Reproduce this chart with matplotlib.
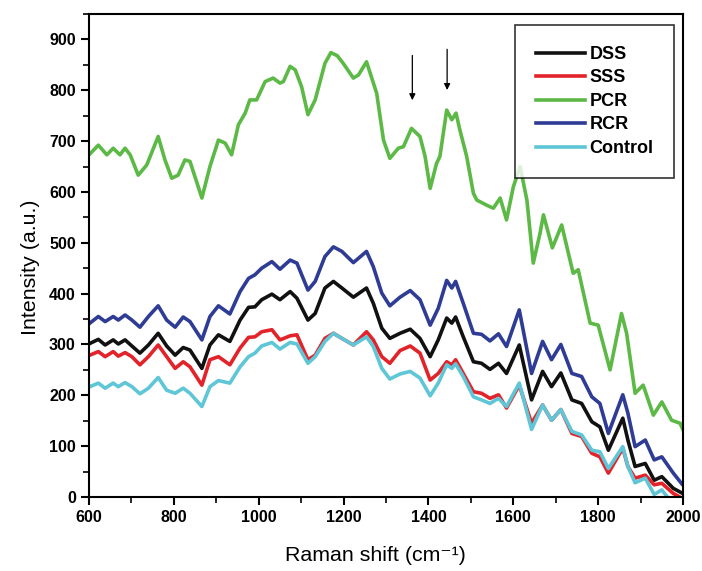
import matplotlib
matplotlib.use('Agg')
import matplotlib.pyplot as plt
from matplotlib.ticker import MultipleLocator

plt.rcParams['font.family'] = ['Liberation Sans', 'DejaVu Sans']

# Raman spectra (shift in cm-1, intensity in a.u.)
pcr_x = [600, 622, 642, 657, 673, 685, 697, 716, 736, 763, 779, 795, 810, 826, 838, 866, 885, 905, 921, 936,
         952, 968, 979, 995, 1015, 1034, 1050, 1058, 1074, 1086, 1101, 1116, 1133, 1156, 1170, 1185, 1199, 1223, 1235, 1254,
         1278, 1294, 1309, 1329, 1341, 1360, 1380, 1392, 1404, 1419, 1427, 1443, 1455, 1465, 1474, 1490, 1506, 1514, 1537, 1553,
         1569, 1584, 1600, 1616, 1632, 1647, 1663, 1671, 1692, 1714, 1741, 1753, 1781, 1800, 1828, 1855, 1867, 1887, 1906, 1930,
         1950, 1973, 1993, 2000]
pcr_y = [673, 692, 673, 686, 673, 686, 673, 633, 653, 709, 663, 627, 633, 663, 660, 588, 650, 702, 696, 673,
         732, 755, 781, 781, 817, 824, 814, 817, 847, 840, 807, 752, 781, 853, 874, 868, 853, 824, 830, 856,
         794, 702, 666, 686, 689, 725, 709, 670, 607, 656, 670, 761, 742, 755, 722, 670, 597, 584, 574, 568,
         588, 545, 610, 650, 584, 460, 519, 555, 490, 535, 440, 447, 342, 338, 250, 361, 322, 204, 220, 161,
         187, 151, 145, 132]

low_x = [602, 622, 638, 657, 669, 685, 701, 720, 740, 763, 783, 803, 822, 838, 866, 885, 905, 932, 956, 976,
         991, 1007, 1031, 1050, 1074, 1090, 1116, 1133, 1156, 1176, 1196, 1223, 1254, 1270, 1290, 1309, 1333, 1357, 1380, 1404,
         1423, 1443, 1455, 1464, 1482, 1506, 1525, 1545, 1565, 1584, 1614, 1643, 1669, 1690, 1712, 1738, 1761, 1785, 1804, 1824,
         1858, 1870, 1887, 1911, 1932, 1950, 1977, 1997]

rcr_y = [342, 355, 345, 355, 348, 358, 348, 334, 355, 376, 348, 334, 354, 345, 309, 355, 376, 360, 404, 430,
         437, 450, 463, 448, 466, 460, 407, 424, 473, 492, 483, 461, 483, 453, 401, 376, 393, 406, 388, 338,
         371, 426, 411, 424, 381, 322, 320, 307, 321, 296, 368, 243, 306, 270, 300, 243, 237, 197, 184, 125,
         201, 165, 99, 112, 73, 79, 47, 26]
dss_y = [302, 310, 299, 309, 301, 309, 297, 283, 299, 322, 297, 279, 294, 289, 253, 299, 319, 306, 348, 373,
         374, 388, 399, 388, 404, 391, 348, 361, 411, 424, 411, 393, 411, 381, 332, 312, 322, 330, 312, 276,
         309, 352, 342, 354, 315, 266, 263, 251, 263, 243, 299, 191, 247, 217, 244, 191, 184, 148, 138, 92,
         155, 112, 60, 66, 33, 40, 17, 8]
sss_y = [279, 286, 276, 286, 277, 284, 276, 260, 276, 299, 276, 253, 266, 256, 220, 270, 276, 260, 293, 314,
         315, 325, 329, 309, 317, 319, 270, 279, 312, 322, 312, 299, 325, 309, 276, 263, 288, 297, 283, 230,
         243, 266, 260, 270, 243, 207, 204, 194, 201, 175, 220, 145, 181, 151, 172, 125, 119, 86, 79, 47,
         96, 60, 37, 43, 24, 27, 7, -2]
ctrl_y = [217, 224, 214, 224, 217, 225, 217, 203, 214, 235, 210, 204, 214, 204, 178, 217, 229, 224, 256, 276,
          283, 297, 304, 291, 304, 301, 263, 276, 306, 322, 312, 299, 315, 296, 253, 232, 242, 247, 234, 199,
          224, 260, 253, 262, 237, 197, 191, 184, 194, 178, 224, 133, 181, 151, 172, 129, 122, 92, 89, 56,
          99, 60, 28, 37, 5, 14, -15, -30]

fig = plt.figure(figsize=(7.02, 5.71), dpi=100)
ax = fig.add_axes([0.1268, 0.1296, 0.8462, 0.8459])

lw = 2.6
ax.plot(low_x, dss_y, color='#111111', lw=lw, label='DSS')
ax.plot(low_x, sss_y, color='#e3232a', lw=lw, label='SSS')
ax.plot(pcr_x, pcr_y, color='#5cb946', lw=lw, label='PCR')
ax.plot(low_x, rcr_y, color='#2f3c96', lw=lw, label='RCR')
ax.plot(low_x, ctrl_y, color='#5ec6d6', lw=lw, label='Control')

for xa, y0, y1 in [(1362, 874, 775), (1444, 886, 795)]:
    ax.annotate('', xy=(xa, y1), xytext=(xa, y0),
                arrowprops=dict(arrowstyle='-|>', color='black', lw=0.9, mutation_scale=9))

ax.set_xlim(600, 2000)
ax.set_ylim(0, 950)
ax.xaxis.set_major_locator(MultipleLocator(200))
ax.xaxis.set_minor_locator(MultipleLocator(100))
ax.yaxis.set_major_locator(MultipleLocator(100))
ax.yaxis.set_minor_locator(MultipleLocator(50))
ax.tick_params(which='major', direction='out', length=6, width=1.5, labelsize=11.5, top=False, right=False)
ax.tick_params(which='minor', direction='out', length=4, width=1.2, top=False, right=False)
for lab in ax.get_xticklabels() + ax.get_yticklabels():
    lab.set_fontweight('bold')
for s in ax.spines.values():
    s.set_linewidth(1.5)

ax.set_xlabel('Raman shift (cm\u207b\u00b9)', fontsize=15.4)
ax.set_ylabel('Intensity (a.u.)', fontsize=15.4)
ax.xaxis.set_label_coords(0.483, -0.101)
ax.yaxis.set_label_coords(-0.083, 0.475)

leg = ax.legend(loc='upper right', bbox_to_anchor=(0.985, 0.977), borderaxespad=0, fancybox=False,
                edgecolor='black', prop={'weight': 'bold', 'size': 13}, handlelength=2.7,
                handletextpad=0.25, labelspacing=0.36, borderpad=1.15)
leg.get_frame().set_linewidth(1.2)

fig.savefig('out.png', dpi=100)
